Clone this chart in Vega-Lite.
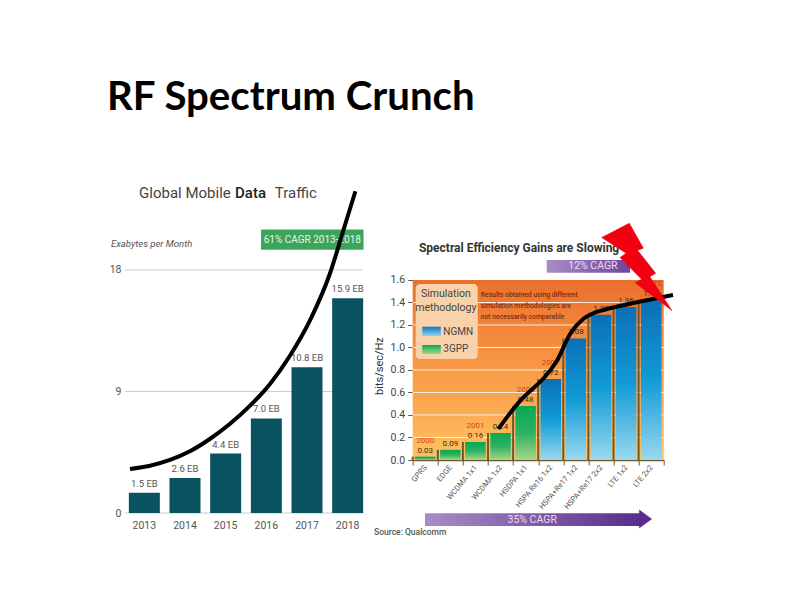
{
"$schema":"https://vega.github.io/schema/vega-lite/v6.json",
"background":"white",
"padding":{"left":107,"top":77,"right":5,"bottom":5},
"bounds":"flush",
"spacing":44.7,
"config":{"view":{"stroke":null}},
"title":{"text":"RF Spectrum Crunch","anchor":"start","frame":"group","font":"Lato","fontWeight":"bold","fontSize":40.2,"color":"#000000","offset":65.5,"dx":-17},
"datasets":{
"traffic":[{"year":"2013","v":1.5,"label":"1.5 EB"},{"year":"2014","v":2.6,"label":"2.6 EB"},{"year":"2015","v":4.4,"label":"4.4 EB"},{"year":"2016","v":7.0,"label":"7.0 EB"},{"year":"2017","v":10.8,"label":"10.8 EB"},{"year":"2018","v":15.9,"label":"15.9 EB"}],
"eff":[{"tech":"GPRS","v":0.03,"method":"3GPP","yr":"2000"},{"tech":"EDGE","v":0.09,"method":"3GPP"},{"tech":"WCDMA 1x1","v":0.16,"method":"3GPP","yr":"2001"},{"tech":"WCDMA 1x2","v":0.24,"method":"3GPP"},{"tech":"HSDPA 1x1","v":0.48,"method":"3GPP","yr":"2005"},{"tech":"HSPA Re16 1x2","v":0.72,"method":"NGMN","yr":"2007"},{"tech":"HSPA+Re17 1x2","v":1.08,"method":"NGMN"},{"tech":"HSPA+Re17 2x2","v":1.29,"method":"NGMN"},{"tech":"LTE 1x2","v":1.36,"method":"NGMN"},{"tech":"LTE 2x2","v":1.42,"method":"NGMN"}]
},
"hconcat":[
{"width":244,"height":322,
"resolve":{"scale":{"x":"independent"}},
"encoding":{"y":{"field":"v","type":"quantitative","title":null,"scale":{"domain":[0,23.85],"nice":false},"axis":{"values":[0,9,18],"domain":false,"ticks":false,"grid":false,"labelPadding":3,"labelFont":"Roboto","labelFontSize":10.5,"labelColor":"#555555"}}},
"layer":[
{"data":{"values":[{"v":0,"a":0.03,"b":5.87},{"v":9,"a":0.03,"b":5.87},{"v":18,"a":0.03,"b":5.87}]},
"mark":{"type":"rule","color":"#cccccc","strokeWidth":1},
"encoding":{"x":{"field":"a","type":"quantitative","axis":null,"scale":{"domain":[0,6],"nice":false}},"x2":{"field":"b"}}},
{"data":{"name":"traffic"},"mark":{"type":"bar","color":"#08535f","size":31},
"encoding":{"x":{"field":"year","type":"nominal","title":null,"scale":{"paddingInner":0,"paddingOuter":0},"axis":{"domain":false,"ticks":false,"labelAngle":0,"labelPadding":7,"labelFont":"Roboto","labelFontSize":10.5,"labelColor":"#555555"}}}},
{"data":{"name":"traffic"},"mark":{"type":"text","dy":-9,"font":"Roboto","fontSize":9.5,"color":"#555555"},
"encoding":{"x":{"field":"year","type":"nominal","axis":null,"scale":{"paddingInner":0,"paddingOuter":0}},"text":{"field":"label"}}},
{"data":{"values":[{"a":3.37,"b":5.89,"v":20.99,"v2":19.5}]},"mark":{"type":"rect","color":"#3ba55c"},
"encoding":{"x":{"field":"a","type":"quantitative","axis":null,"scale":{"domain":[0,6],"nice":false}},"x2":{"field":"b"},"y2":{"field":"v2"}}},
{"data":{"values":[{"a":4.63,"v":20.25,"t":"61% CAGR 2013-2018"}]},"mark":{"type":"text","font":"Roboto","fontSize":10,"color":"#e6f5e6","align":"center"},
"encoding":{"x":{"field":"a","type":"quantitative","axis":null,"scale":{"domain":[0,6],"nice":false}},"text":{"field":"t"}}},
{"data":{"values":[{"a":0.37,"v":23.7,"t":"Global Mobile"},{"a":3.71,"v":23.7,"t":"Traffic"}]},"mark":{"type":"text","font":"Roboto","fontSize":15,"color":"#444444","align":"left"},
"encoding":{"x":{"field":"a","type":"quantitative","axis":null,"scale":{"domain":[0,6],"nice":false}},"text":{"field":"t"}}},
{"data":{"values":[{"a":2.73,"v":23.7,"t":"Data"}]},"mark":{"type":"text","font":"Roboto","fontSize":15,"fontWeight":500,"color":"#222222","align":"left"},
"encoding":{"x":{"field":"a","type":"quantitative","axis":null,"scale":{"domain":[0,6],"nice":false}},"text":{"field":"t"}}},
{"data":{"values":[{"a":-0.32,"v":19.9,"t":"Exabytes per Month"}]},"mark":{"type":"text","font":"Roboto","fontSize":9.5,"fontStyle":"italic","color":"#555555","align":"left"},
"encoding":{"x":{"field":"a","type":"quantitative","axis":null,"scale":{"domain":[0,6],"nice":false}},"text":{"field":"t"}}},
{"data":{"values":[{"a":0.147,"v":3.26},{"a":0.64,"v":3.5},{"a":1.13,"v":3.93},{"a":1.62,"v":4.57},{"a":2.11,"v":5.48},{"a":2.6,"v":6.59},{"a":3.1,"v":7.95},{"a":3.59,"v":9.56},{"a":4.08,"v":11.65},{"a":4.57,"v":14.25},{"a":5.06,"v":17.7},{"a":5.39,"v":20.9},{"a":5.69,"v":23.83}]},
"mark":{"type":"line","color":"#000000","strokeWidth":4,"interpolate":"monotone"},
"encoding":{"x":{"field":"a","type":"quantitative","axis":null,"scale":{"domain":[0,6],"nice":false}}}}
]},
{"width":251,"height":269,
"resolve":{"scale":{"x":"independent"}},
"encoding":{"y":{"field":"v","type":"quantitative","title":null,"scale":{"domain":[0,2.391],"nice":false},"axis":{"values":[0,0.2,0.4,0.6,0.8,1.0,1.2,1.4,1.6],"format":".1f","domain":false,"grid":false,"tickSize":5,"tickColor":"#6b5a3a","labelPadding":3,"labelFont":"Roboto","labelFontSize":10.5,"labelColor":"#444444"}}},
"layer":[
{"data":{"values":[{"a":0,"b":10,"v":1.6,"v2":0}]},
"mark":{"type":"rect","color":{"gradient":"linear","x1":0,"y1":0,"x2":0,"y2":1,"stops":[{"offset":0,"color":"#ea6f2e"},{"offset":0.5,"color":"#f99a45"},{"offset":1,"color":"#fdc262"}]}},
"encoding":{"x":{"field":"a","type":"quantitative","axis":null,"scale":{"domain":[0,10],"nice":false}},"x2":{"field":"b"},"y2":{"field":"v2"}}},
{"data":{"values":[{"a":0,"b":10,"v":0.2},{"a":0,"b":10,"v":0.4},{"a":0,"b":10,"v":0.6},{"a":0,"b":10,"v":0.8},{"a":0,"b":10,"v":1.0},{"a":0,"b":10,"v":1.2},{"a":0,"b":10,"v":1.4}]},
"mark":{"type":"rule","color":"#fdeedd","strokeWidth":1.2},
"encoding":{"x":{"field":"a","type":"quantitative","axis":null,"scale":{"domain":[0,10],"nice":false}},"x2":{"field":"b"}}},
{"data":{"name":"eff"},"transform":[{"filter":"datum.method==='NGMN'"}],
"mark":{"type":"bar","size":20.5,"color":{"gradient":"linear","x1":0,"y1":0,"x2":0,"y2":1,"stops":[{"offset":0,"color":"#0c6fb8"},{"offset":0.5,"color":"#109bd6"},{"offset":1,"color":"#9ad8f0"}]}},
"encoding":{"x":{"field":"tech","type":"nominal","axis":null,"scale":{"domain":["GPRS","EDGE","WCDMA 1x1","WCDMA 1x2","HSDPA 1x1","HSPA Re16 1x2","HSPA+Re17 1x2","HSPA+Re17 2x2","LTE 1x2","LTE 2x2"],"paddingInner":0,"paddingOuter":0}}}},
{"data":{"name":"eff"},"transform":[{"filter":"datum.method==='3GPP'"}],
"mark":{"type":"bar","size":20.5,"color":{"gradient":"linear","x1":0,"y1":0,"x2":0,"y2":1,"stops":[{"offset":0,"color":"#08a850"},{"offset":0.5,"color":"#2db262"},{"offset":1,"color":"#a6d68c"}]}},
"encoding":{"x":{"field":"tech","type":"nominal","axis":null,"scale":{"domain":["GPRS","EDGE","WCDMA 1x1","WCDMA 1x2","HSDPA 1x1","HSPA Re16 1x2","HSPA+Re17 1x2","HSPA+Re17 2x2","LTE 1x2","LTE 2x2"],"paddingInner":0,"paddingOuter":0}}}},
{"data":{"name":"eff"},
"mark":{"type":"rule","color":"#6b5a30","strokeWidth":2},
"encoding":{"x":{"field":"tech","type":"nominal","bandPosition":0,"title":null,"scale":{"domain":["GPRS","EDGE","WCDMA 1x1","WCDMA 1x2","HSDPA 1x1","HSPA Re16 1x2","HSPA+Re17 1x2","HSPA+Re17 2x2","LTE 1x2","LTE 2x2"],"paddingInner":0,"paddingOuter":0},"axis":{"tickBand":"extent","domainColor":"#6b5a30","domainWidth":1.5,"tickColor":"#6b5a30","tickSize":5,"labelAngle":-50,"labelAlign":"right","labelBaseline":"middle","labelPadding":1,"labelFont":"Roboto","labelFontSize":7.6,"labelColor":"#555555","labelLimit":120}},"y2":{"datum":0}}},
{"data":{"name":"eff"},"mark":{"type":"text","dy":-6,"font":"Roboto","fontSize":8,"color":"#3a2a10"},
"encoding":{"x":{"field":"tech","type":"nominal","axis":null,"scale":{"domain":["GPRS","EDGE","WCDMA 1x1","WCDMA 1x2","HSDPA 1x1","HSPA Re16 1x2","HSPA+Re17 1x2","HSPA+Re17 2x2","LTE 1x2","LTE 2x2"],"paddingInner":0,"paddingOuter":0}},"text":{"field":"v","type":"quantitative","format":".2f"}}},
{"data":{"name":"eff"},"transform":[{"filter":"datum.yr"}],"mark":{"type":"text","dy":-16,"font":"Roboto","fontSize":8,"color":"#e03a20"},
"encoding":{"x":{"field":"tech","type":"nominal","axis":null,"scale":{"domain":["GPRS","EDGE","WCDMA 1x1","WCDMA 1x2","HSDPA 1x1","HSPA Re16 1x2","HSPA+Re17 1x2","HSPA+Re17 2x2","LTE 1x2","LTE 2x2"],"paddingInner":0,"paddingOuter":0}},"text":{"field":"yr"}}},
{"data":{"values":[{"a":0.12,"b":2.59,"v":1.564,"v2":0.898}]},"mark":{"type":"rect","color":"#f9d2aa","cornerRadius":4},
"encoding":{"x":{"field":"a","type":"quantitative","axis":null,"scale":{"domain":[0,10],"nice":false}},"x2":{"field":"b"},"y2":{"field":"v2"}}},
{"data":{"values":[{"a":0.38,"b":1.12,"v":1.185,"v2":1.102}]},"mark":{"type":"rect","color":{"gradient":"linear","x1":0,"y1":0,"x2":0,"y2":1,"stops":[{"offset":0,"color":"#0c78c0"},{"offset":1,"color":"#8fd3ee"}]}},
"encoding":{"x":{"field":"a","type":"quantitative","axis":null,"scale":{"domain":[0,10],"nice":false}},"x2":{"field":"b"},"y2":{"field":"v2"}}},
{"data":{"values":[{"a":0.38,"b":1.12,"v":1.022,"v2":0.942}]},"mark":{"type":"rect","color":{"gradient":"linear","x1":0,"y1":0,"x2":0,"y2":1,"stops":[{"offset":0,"color":"#08a850"},{"offset":1,"color":"#a6d68c"}]}},
"encoding":{"x":{"field":"a","type":"quantitative","axis":null,"scale":{"domain":[0,10],"nice":false}},"x2":{"field":"b"},"y2":{"field":"v2"}}},
{"data":{"values":[{"a":1.32,"v":1.476,"t":"Simulation"},{"a":1.32,"v":1.35,"t":"methodology"}]},"mark":{"type":"text","font":"Roboto","fontSize":10.5,"color":"#444444","align":"center"},
"encoding":{"x":{"field":"a","type":"quantitative","axis":null,"scale":{"domain":[0,10],"nice":false}},"text":{"field":"t"}}},
{"data":{"values":[{"a":1.22,"v":1.14,"t":"NGMN"},{"a":1.22,"v":0.987,"t":"3GPP"}]},"mark":{"type":"text","font":"Roboto","fontSize":10,"color":"#444444","align":"left"},
"encoding":{"x":{"field":"a","type":"quantitative","axis":null,"scale":{"domain":[0,10],"nice":false}},"text":{"field":"t"}}},
{"data":{"values":[{"a":2.71,"v":1.467,"t":"Results obtained using different"},{"a":2.71,"v":1.369,"t":"simulation methodologies are"},{"a":2.71,"v":1.271,"t":"not necessarily comparable"}]},"mark":{"type":"text","font":"Roboto","fontSize":6.8,"fontWeight":500,"color":"#7a2d12","align":"left"},
"encoding":{"x":{"field":"a","type":"quantitative","axis":null,"scale":{"domain":[0,10],"nice":false}},"text":{"field":"t"}}},
{"data":{"values":[{"a":9.95,"v":1.565,"t":"LTE"}]},"mark":{"type":"text","font":"Roboto","fontSize":8,"color":"#e03a20","align":"right"},
"encoding":{"x":{"field":"a","type":"quantitative","axis":null,"scale":{"domain":[0,10],"nice":false}},"text":{"field":"t"}}},
{"data":{"values":[{"a":5.34,"b":8.66,"v":1.778,"v2":1.665}]},"mark":{"type":"rect","color":{"gradient":"linear","x1":0,"y1":0,"x2":1,"y2":0,"stops":[{"offset":0,"color":"#a98cc6"},{"offset":1,"color":"#6f45a0"}]}},
"encoding":{"x":{"field":"a","type":"quantitative","axis":null,"scale":{"domain":[0,10],"nice":false}},"x2":{"field":"b"},"y2":{"field":"v2"}}},
{"data":{"values":[{"a":0.25,"v":1.884,"t":"Spectral Efficiency Gains are Slowing"}]},"mark":{"type":"text","font":"Roboto","fontSize":12,"fontWeight":"bold","color":"#333333","align":"left"},
"encoding":{"x":{"field":"a","type":"quantitative","axis":null,"scale":{"domain":[0,10],"nice":false}},"text":{"field":"t"}}},
{"data":{"values":[{"a":-1.54,"v":-0.64,"t":"Source: Qualcomm"}]},"mark":{"type":"text","font":"Roboto","fontSize":8.5,"fontWeight":500,"color":"#555555","align":"left"},
"encoding":{"x":{"field":"a","type":"quantitative","axis":null,"scale":{"domain":[0,10],"nice":false}},"text":{"field":"t"}}},
{"data":{"values":[{"a":-1.3,"v":0.835,"t":"bits/sec/Hz"}]},"mark":{"type":"text","font":"Roboto","fontSize":11,"color":"#333333","align":"center","angle":270},
"encoding":{"x":{"field":"a","type":"quantitative","axis":null,"scale":{"domain":[0,10],"nice":false}},"text":{"field":"t"}}},
{"data":{"values":[{"a":0.49,"b":9.07,"v":-0.474,"v2":-0.587}]},"mark":{"type":"rect","color":{"gradient":"linear","x1":0,"y1":0,"x2":1,"y2":0,"stops":[{"offset":0,"color":"#a98cc6"},{"offset":1,"color":"#5a2d8c"}]}},
"encoding":{"x":{"field":"a","type":"quantitative","axis":null,"scale":{"domain":[0,10],"nice":false}},"x2":{"field":"b"},"y2":{"field":"v2"}}},
{"data":{"values":[{"i":0,"a":9.03,"v":-0.444},{"i":1,"a":9.52,"v":-0.524},{"i":2,"a":9.03,"v":-0.604},{"i":3,"a":9.03,"v":-0.444}]},"mark":{"type":"line","color":"#5a2d8c","fill":"#5a2d8c","strokeWidth":0.5},
"encoding":{"x":{"field":"a","type":"quantitative","axis":null,"scale":{"domain":[0,10],"nice":false}},"order":{"field":"i"}}},
{"data":{"values":[{"a":7.18,"v":1.72,"t":"12% CAGR"},{"a":4.76,"v":-0.53,"t":"35% CAGR"}]},"mark":{"type":"text","font":"Roboto","fontSize":10.5,"color":"#e8def0","align":"center"},
"encoding":{"x":{"field":"a","type":"quantitative","axis":null,"scale":{"domain":[0,10],"nice":false}},"text":{"field":"t"}}},
{"data":{"values":[{"a":3.41,"v":0.276},{"a":4.27,"v":0.524},{"a":5.19,"v":0.72},{"a":5.74,"v":0.88},{"a":6.27,"v":1.12},{"a":6.79,"v":1.253},{"a":7.34,"v":1.316},{"a":8.26,"v":1.369},{"a":9.57,"v":1.431},{"a":10.37,"v":1.467}]},
"mark":{"type":"line","color":"#000000","strokeWidth":4,"interpolate":"cardinal"},
"encoding":{"x":{"field":"a","type":"quantitative","axis":null,"scale":{"domain":[0,10],"nice":false}}}},
{"data":{"values":[{"i":0,"a":8.63,"v":2.105},{"i":1,"a":9.19,"v":1.883},{"i":2,"a":8.96,"v":1.864},{"i":3,"a":9.68,"v":1.66},{"i":4,"a":9.45,"v":1.629},{"i":5,"a":10.33,"v":1.328},{"i":6,"a":8.86,"v":1.576},{"i":7,"a":9.12,"v":1.606},{"i":8,"a":8.26,"v":1.799},{"i":9,"a":8.5,"v":1.838},{"i":10,"a":7.53,"v":1.977},{"i":11,"a":8.63,"v":2.105}]},
"mark":{"type":"line","color":"#f00010","fill":"#f00010","strokeWidth":0.5},
"encoding":{"x":{"field":"a","type":"quantitative","axis":null,"scale":{"domain":[0,10],"nice":false}},"order":{"field":"i"}}}
]}
]
}
